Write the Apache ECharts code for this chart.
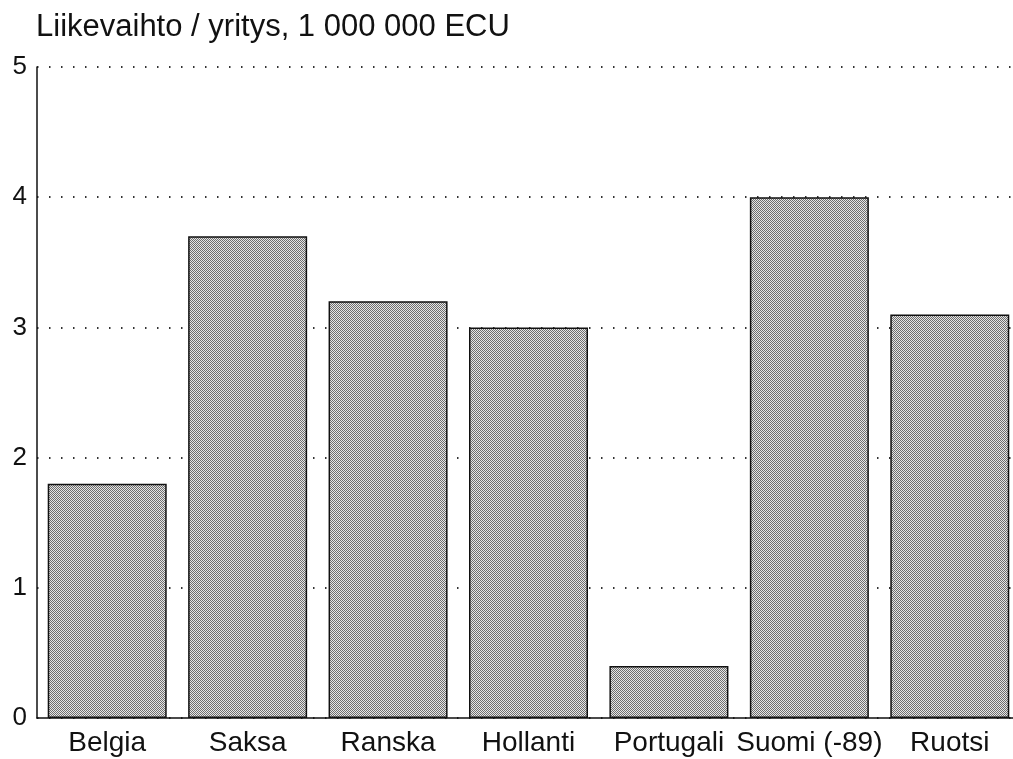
<!DOCTYPE html>
<html>
<head>
<meta charset="utf-8">
<script src="https://cdn.jsdelivr.net/npm/echarts@6/dist/echarts.min.js"></script>
<style>
html,body{margin:0;padding:0;background:#fff;overflow:hidden;}
#chart{width:1020px;height:759px;}
</style>
</head>
<body>
<div id="chart"></div>
<script>
const titleText = 'Liikevaihto / yritys, 1 000 000 ECU';
const categories = ['Belgia', 'Saksa', 'Ranska', 'Hollanti', 'Portugali', 'Suomi (-89)', 'Ruotsi'];
const values = [1.8, 3.7, 3.2, 3.0, 0.4, 4.0, 3.1];
const yMin = 0, yMax = 5, yInterval = 1;

const pc = document.createElement('canvas');
pc.width = 2; pc.height = 2;
const g = pc.getContext('2d');
g.fillStyle = '#e6e6e6'; g.fillRect(0, 0, 2, 2);
g.fillStyle = '#6e6e6e'; g.fillRect(0, 0, 1, 1); g.fillRect(1, 1, 1, 1);

const font = '"Liberation Sans", Arial, Helvetica, sans-serif';
const chart = echarts.init(document.getElementById('chart'), null, {renderer: 'canvas'});
chart.setOption({
  animation: false,
  backgroundColor: '#ffffff',
  title: {
    text: titleText, left: 31, top: 7,
    textStyle: {fontFamily: font, fontSize: 31, fontWeight: 'normal', color: '#111'}
  },
  grid: {left: 37, top: 67, right: 0, bottom: 41, outerBoundsMode: 'none'},
  xAxis: {
    type: 'category', data: categories,
    axisLine: {lineStyle: {color: '#111', width: 1.5}},
    axisTick: {show: false},
    axisLabel: {interval: 0, margin: 11, fontFamily: font, fontSize: 28, color: '#111'}
  },
  yAxis: {
    type: 'value', min: yMin, max: yMax, interval: yInterval,
    axisLine: {show: true, lineStyle: {color: '#111', width: 1.5}},
    axisTick: {show: false},
    axisLabel: {margin: 10, fontFamily: font, fontSize: 26, color: '#111'},
    splitLine: {show: true, lineStyle: {color: '#333', width: 2, type: [1.5, 10.5]}}
  },
  series: [{
    type: 'bar', data: values, barWidth: 119,
    itemStyle: {color: {image: pc, repeat: 'repeat'}, borderColor: '#111', borderWidth: 1.5}
  }]
});
</script>
</body>
</html>
